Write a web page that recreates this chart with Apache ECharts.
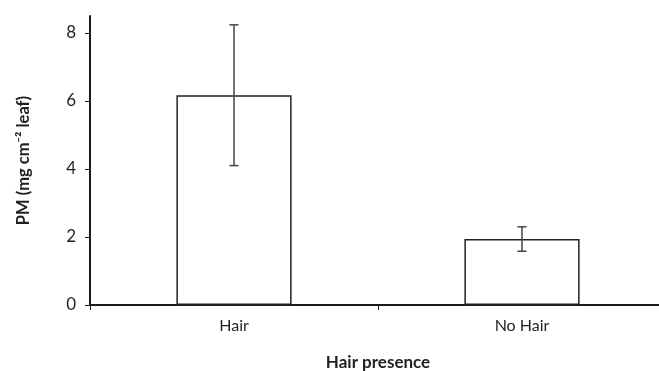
<!DOCTYPE html>
<html><head><meta charset="utf-8">
<script src="https://cdn.jsdelivr.net/npm/echarts@6/dist/echarts.min.js"></script>
<style>html,body{margin:0;padding:0;background:#fff}#c{width:659px;height:371px}</style>
</head><body><div id="c"></div>
<script>
const categories = ["Hair", "No Hair"];
const means = [6.17, 1.94];
const errors = [2.07, 0.36];
const yTicks = [0, 2, 4, 6, 8];

const FONT = "Lato";
const chart = echarts.init(document.getElementById('c'), null, {renderer: 'canvas'});
chart.setOption({
  animation: false,
  backgroundColor: '#fff',
  grid: {left: 90, top: 16, bottom: 66, width: 576, containLabel: false, outerBoundsMode: 'none'},
  xAxis: {
    type: 'category', data: categories,
    name: 'Hair presence', nameLocation: 'middle', nameGap: 49,
    nameTextStyle: {fontFamily: FONT, fontWeight: 'bold', fontSize: 17, color: '#231f20'},
    axisLine: {lineStyle: {color: '#1a1a1a', width: 2}},
    axisTick: {show: true, length: 5, lineStyle: {color: '#1a1a1a', width: 1}},
    axisLabel: {fontFamily: FONT, fontSize: 16, color: '#231f20', margin: 13}
  },
  yAxis: {
    type: 'value', min: 0, max: 8.5,
    name: 'PM (mg cm\u207B\u00B2 leaf)', nameLocation: 'middle', nameGap: 58,
    nameTextStyle: {fontFamily: FONT, fontWeight: 'bold', fontSize: 16.5, color: '#231f20'},
    axisLine: {show: true, lineStyle: {color: '#1a1a1a', width: 2}},
    axisTick: {show: true, length: 5, customValues: yTicks, lineStyle: {color: '#1a1a1a', width: 1}},
    axisLabel: {fontFamily: FONT, fontSize: 17, color: '#231f20', margin: 14, customValues: yTicks},
    splitLine: {show: false}
  },
  series: [
    {
      type: 'bar', data: means, barWidth: '40%',
      itemStyle: {color: '#fff', borderColor: '#222', borderWidth: 1.5}
    },
    {
      type: 'custom',
      data: means.map((m, i) => [i, m - errors[i], m + errors[i]]),
      renderItem: function (params, api) {
        const lo = api.coord([api.value(0), api.value(1)]);
        const hi = api.coord([api.value(0), api.value(2)]);
        const hw = 4.5;
        const st = {stroke: '#444', lineWidth: 1.5};
        return {type: 'group', children: [
          {type: 'line', shape: {x1: hi[0], y1: hi[1], x2: lo[0], y2: lo[1]}, style: st},
          {type: 'line', shape: {x1: hi[0]-hw, y1: hi[1], x2: hi[0]+hw, y2: hi[1]}, style: st},
          {type: 'line', shape: {x1: lo[0]-hw, y1: lo[1], x2: lo[0]+hw, y2: lo[1]}, style: st}
        ]};
      },
      z: 10
    }
  ]
});
</script></body></html>
